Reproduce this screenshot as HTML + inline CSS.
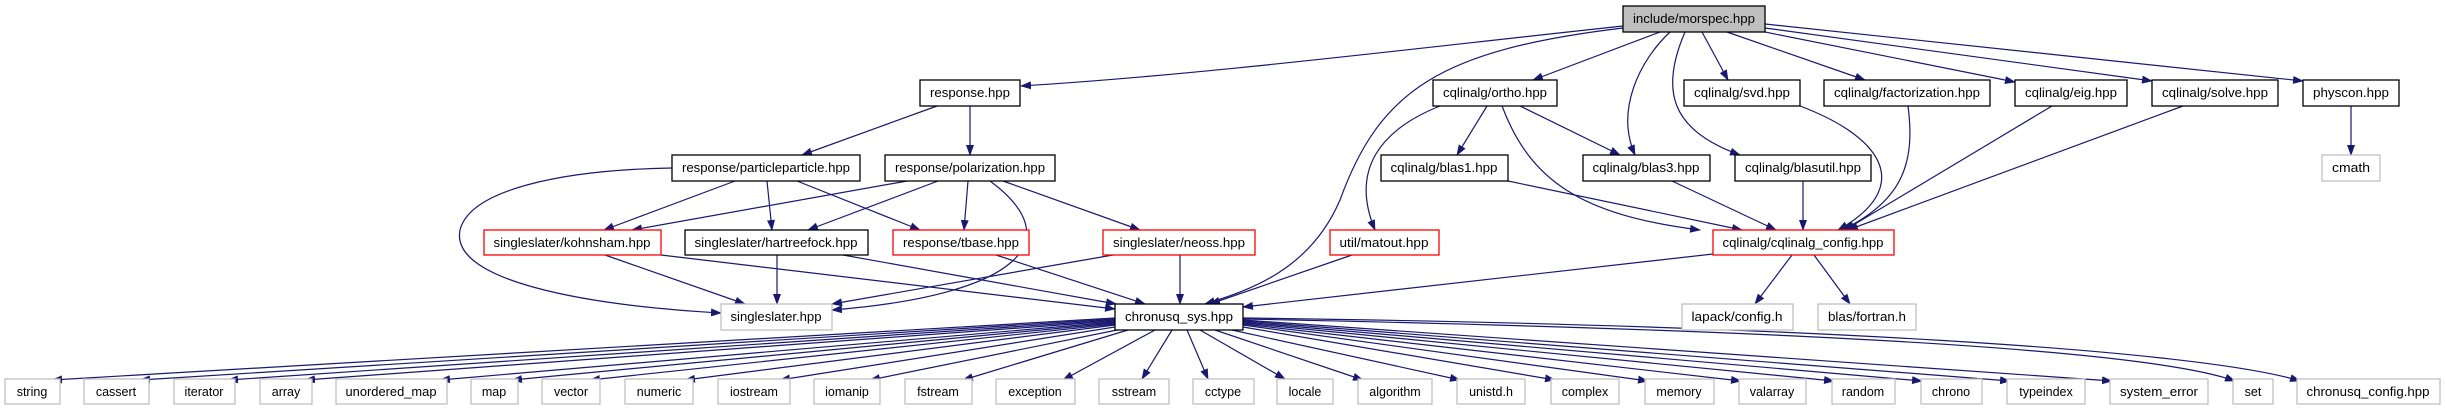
<!DOCTYPE html>
<html><head><meta charset="utf-8"><style>
html,body{margin:0;padding:0;background:#fff;}
svg{display:block;}
text{font-family:"Liberation Sans",Arial,sans-serif;font-size:12.5px;fill:#000;text-anchor:middle;}
.e{fill:none;stroke:#191970;stroke-width:1.2;marker-end:url(#a);}
.b{fill:#fff;stroke:#000;stroke-width:1.3;}
.g{fill:#fff;stroke:#bfbfbf;stroke-width:1.3;}
.r{fill:#fff;stroke:#ff0000;stroke-width:1.3;}
.m{fill:#bfbfbf;stroke:#000;stroke-width:1.3;}
</style></head><body>
<svg width="2445" height="411" viewBox="0 0 2445 411" xmlns="http://www.w3.org/2000/svg">
<defs><marker id="a" markerWidth="11" markerHeight="8" refX="10" refY="4" orient="auto" markerUnits="userSpaceOnUse"><path d="M0,0 L11,4 L0,8z" fill="#191970"/></marker></defs>
<!-- edges from morspec -->
<path class="e" d="M1623,26 C1400,50 1200,75 1021,86"/>
<path class="e" d="M1623,28 C1440,50 1380,90 1340,200 C1310,270 1250,290 1205,304"/>
<path class="e" d="M1660,32 L1533,80"/>
<path class="e" d="M1670,32 C1640,60 1615,110 1635,155"/>
<path class="e" d="M1685,32 C1660,90 1670,130 1740,155"/>
<path class="e" d="M1702,32 L1728,80"/>
<path class="e" d="M1727,32 L1865,80"/>
<path class="e" d="M1755,30 L2015,82"/>
<path class="e" d="M1765,28 L2152,81"/>
<path class="e" d="M1765,24 L2303,81"/>
<!-- response -->
<path class="e" d="M937,106 L802,155"/>
<path class="e" d="M970,106 L970,155"/>
<!-- particleparticle -->
<path class="e" d="M672,168 C560,170 470,190 460,230 C450,280 580,305 721,313"/>
<path class="e" d="M735,181 L604,230"/>
<path class="e" d="M767,181 L772,230"/>
<path class="e" d="M797,181 L920,230"/>
<!-- polarization -->
<path class="e" d="M907,181 L632,230"/>
<path class="e" d="M938,181 L808,230"/>
<path class="e" d="M968,181 L964,230"/>
<path class="e" d="M990,181 C1070,240 1020,295 832,310"/>
<path class="e" d="M1003,181 L1140,230"/>
<!-- level 3 -->
<path class="e" d="M605,255 L745,304"/>
<path class="e" d="M661,255 L1115,309"/>
<path class="e" d="M777,255 L777,304"/>
<path class="e" d="M843,255 L1116,304"/>
<path class="e" d="M996,255 L1145,304"/>
<path class="e" d="M1113,255 L832,304"/>
<path class="e" d="M1180,255 L1180,304"/>
<path class="e" d="M1352,255 L1210,304"/>
<path class="e" d="M1713,254 L1243,307"/>
<!-- ortho etc -->
<path class="e" d="M1440,106 C1380,130 1350,170 1375,230"/>
<path class="e" d="M1487,106 L1457,155"/>
<path class="e" d="M1520,106 L1620,155"/>
<path class="e" d="M1502,106 C1530,180 1580,215 1700,230"/>
<path class="e" d="M1508,181 L1742,230"/>
<path class="e" d="M1672,181 L1776,230"/>
<path class="e" d="M1803,181 L1803,230"/>
<path class="e" d="M1800,106 C1890,140 1910,190 1838,230"/>
<path class="e" d="M1908,106 C1915,160 1905,200 1842,230"/>
<path class="e" d="M2052,106 L1845,230"/>
<path class="e" d="M2183,106 L1848,230"/>
<path class="e" d="M2351,106 L2351,155"/>
<path class="e" d="M1792,255 L1755,304"/>
<path class="e" d="M1814,255 L1850,304"/>
<!-- chronusq_sys fan -->
<path class="e" d="M1115,318 L52,380"/>
<path class="e" d="M1115,319 L140,380"/>
<path class="e" d="M1115,320 L228,380"/>
<path class="e" d="M1115,321 L305,380"/>
<path class="e" d="M1115,322 L440,380"/>
<path class="e" d="M1115,323 L512,380"/>
<path class="e" d="M1115,324 L590,380"/>
<path class="e" d="M1115,325 L685,380"/>
<path class="e" d="M1115,327 L780,380"/>
<path class="e" d="M1117,330 L870,380"/>
<path class="e" d="M1128,330 L963,380"/>
<path class="e" d="M1155,330 L1063,380"/>
<path class="e" d="M1172,330 L1142,379"/>
<path class="e" d="M1187,330 L1208,379"/>
<path class="e" d="M1200,330 L1285,379"/>
<path class="e" d="M1215,330 L1363,380"/>
<path class="e" d="M1232,330 L1460,380"/>
<path class="e" d="M1243,327 L1555,380"/>
<path class="e" d="M1243,325 L1648,381"/>
<path class="e" d="M1243,324 L1741,381"/>
<path class="e" d="M1243,323 L1834,381"/>
<path class="e" d="M1243,322 L1922,381"/>
<path class="e" d="M1243,321 L2010,381"/>
<path class="e" d="M1243,320 L2112,381"/>
<path class="e" d="M1243,319 C1800,330 2150,350 2235,381"/>
<path class="e" d="M1243,318 C1800,325 2200,350 2300,381"/>
<!-- nodes -->
<rect class="m" x="1623" y="6" width="142" height="26"/><text x="1694" y="23" textLength="122" lengthAdjust="spacingAndGlyphs">include/morspec.hpp</text>
<rect class="b" x="920" y="80" width="100" height="26"/><text x="970" y="97" textLength="80" lengthAdjust="spacingAndGlyphs">response.hpp</text>
<rect class="b" x="1433" y="80" width="124" height="26"/><text x="1495" y="97" textLength="104" lengthAdjust="spacingAndGlyphs">cqlinalg/ortho.hpp</text>
<rect class="b" x="1684" y="80" width="116" height="26"/><text x="1742" y="97" textLength="96" lengthAdjust="spacingAndGlyphs">cqlinalg/svd.hpp</text>
<rect class="b" x="1824" y="80" width="166" height="26"/><text x="1907" y="97" textLength="146" lengthAdjust="spacingAndGlyphs">cqlinalg/factorization.hpp</text>
<rect class="b" x="2015" y="80" width="112" height="26"/><text x="2071" y="97" textLength="92" lengthAdjust="spacingAndGlyphs">cqlinalg/eig.hpp</text>
<rect class="b" x="2152" y="80" width="126" height="26"/><text x="2215" y="97" textLength="106" lengthAdjust="spacingAndGlyphs">cqlinalg/solve.hpp</text>
<rect class="b" x="2303" y="80" width="96" height="26"/><text x="2351" y="97" textLength="76" lengthAdjust="spacingAndGlyphs">physcon.hpp</text>
<rect class="b" x="672" y="155" width="188" height="26"/><text x="766" y="172" textLength="168" lengthAdjust="spacingAndGlyphs">response/particleparticle.hpp</text>
<rect class="b" x="885" y="155" width="170" height="26"/><text x="970" y="172" textLength="150" lengthAdjust="spacingAndGlyphs">response/polarization.hpp</text>
<rect class="b" x="1381" y="155" width="127" height="26"/><text x="1444" y="172" textLength="107" lengthAdjust="spacingAndGlyphs">cqlinalg/blas1.hpp</text>
<rect class="b" x="1583" y="155" width="127" height="26"/><text x="1646" y="172" textLength="107" lengthAdjust="spacingAndGlyphs">cqlinalg/blas3.hpp</text>
<rect class="b" x="1735" y="155" width="136" height="26"/><text x="1803" y="172" textLength="116" lengthAdjust="spacingAndGlyphs">cqlinalg/blasutil.hpp</text>
<rect class="g" x="2322" y="155" width="58" height="26"/><text x="2351" y="172" textLength="38" lengthAdjust="spacingAndGlyphs">cmath</text>
<rect class="r" x="484" y="230" width="177" height="25"/><text x="572" y="247" textLength="157" lengthAdjust="spacingAndGlyphs">singleslater/kohnsham.hpp</text>
<rect class="b" x="685" y="230" width="183" height="25"/><text x="776" y="247" textLength="163" lengthAdjust="spacingAndGlyphs">singleslater/hartreefock.hpp</text>
<rect class="r" x="893" y="230" width="136" height="25"/><text x="961" y="247" textLength="116" lengthAdjust="spacingAndGlyphs">response/tbase.hpp</text>
<rect class="r" x="1103" y="230" width="152" height="25"/><text x="1179" y="247" textLength="132" lengthAdjust="spacingAndGlyphs">singleslater/neoss.hpp</text>
<rect class="r" x="1330" y="230" width="109" height="25"/><text x="1384" y="247" textLength="89" lengthAdjust="spacingAndGlyphs">util/matout.hpp</text>
<rect class="r" x="1713" y="230" width="181" height="25"/><text x="1803" y="247" textLength="161" lengthAdjust="spacingAndGlyphs">cqlinalg/cqlinalg_config.hpp</text>
<rect class="g" x="721" y="304" width="111" height="26"/><text x="776" y="321" textLength="91" lengthAdjust="spacingAndGlyphs">singleslater.hpp</text>
<rect class="b" x="1115" y="304" width="128" height="26"/><text x="1179" y="321" textLength="108" lengthAdjust="spacingAndGlyphs">chronusq_sys.hpp</text>
<rect class="g" x="1682" y="304" width="111" height="26"/><text x="1737" y="321" textLength="91" lengthAdjust="spacingAndGlyphs">lapack/config.h</text>
<rect class="g" x="1818" y="304" width="98" height="26"/><text x="1867" y="321" textLength="78" lengthAdjust="spacingAndGlyphs">blas/fortran.h</text>
<!-- bottom row -->
<g>
<rect class="g" x="5" y="379" width="55" height="25"/><text x="32" y="396">string</text>
<rect class="g" x="84" y="379" width="65" height="25"/><text x="116" y="396">cassert</text>
<rect class="g" x="174" y="379" width="61" height="25"/><text x="204" y="396">iterator</text>
<rect class="g" x="260" y="379" width="52" height="25"/><text x="286" y="396">array</text>
<rect class="g" x="336" y="379" width="111" height="25"/><text x="391" y="396" textLength="91" lengthAdjust="spacingAndGlyphs">unordered_map</text>
<rect class="g" x="471" y="379" width="47" height="25"/><text x="494" y="396">map</text>
<rect class="g" x="542" y="379" width="58" height="25"/><text x="571" y="396">vector</text>
<rect class="g" x="625" y="379" width="68" height="25"/><text x="659" y="396">numeric</text>
<rect class="g" x="718" y="379" width="72" height="25"/><text x="754" y="396">iostream</text>
<rect class="g" x="814" y="379" width="66" height="25"/><text x="847" y="396">iomanip</text>
<rect class="g" x="905" y="379" width="67" height="25"/><text x="938" y="396">fstream</text>
<rect class="g" x="996" y="379" width="79" height="25"/><text x="1035" y="396">exception</text>
<rect class="g" x="1099" y="379" width="70" height="25"/><text x="1134" y="396">sstream</text>
<rect class="g" x="1193" y="379" width="61" height="25"/><text x="1223" y="396">cctype</text>
<rect class="g" x="1277" y="379" width="56" height="25"/><text x="1305" y="396">locale</text>
<rect class="g" x="1358" y="379" width="74" height="25"/><text x="1395" y="396">algorithm</text>
<rect class="g" x="1457" y="379" width="68" height="25"/><text x="1491" y="396">unistd.h</text>
<rect class="g" x="1551" y="379" width="68" height="25"/><text x="1585" y="396">complex</text>
<rect class="g" x="1645" y="379" width="69" height="25"/><text x="1679" y="396">memory</text>
<rect class="g" x="1739" y="379" width="67" height="25"/><text x="1772" y="396">valarray</text>
<rect class="g" x="1832" y="379" width="63" height="25"/><text x="1863" y="396">random</text>
<rect class="g" x="1921" y="379" width="61" height="25"/><text x="1951" y="396">chrono</text>
<rect class="g" x="2007" y="379" width="78" height="25"/><text x="2046" y="396">typeindex</text>
<rect class="g" x="2110" y="379" width="98" height="25"/><text x="2159" y="396" textLength="78" lengthAdjust="spacingAndGlyphs">system_error</text>
<rect class="g" x="2233" y="379" width="40" height="25"/><text x="2253" y="396">set</text>
<rect class="g" x="2297" y="379" width="143" height="25"/><text x="2368" y="396" textLength="123" lengthAdjust="spacingAndGlyphs">chronusq_config.hpp</text>
</g>
</svg>
</body></html>
